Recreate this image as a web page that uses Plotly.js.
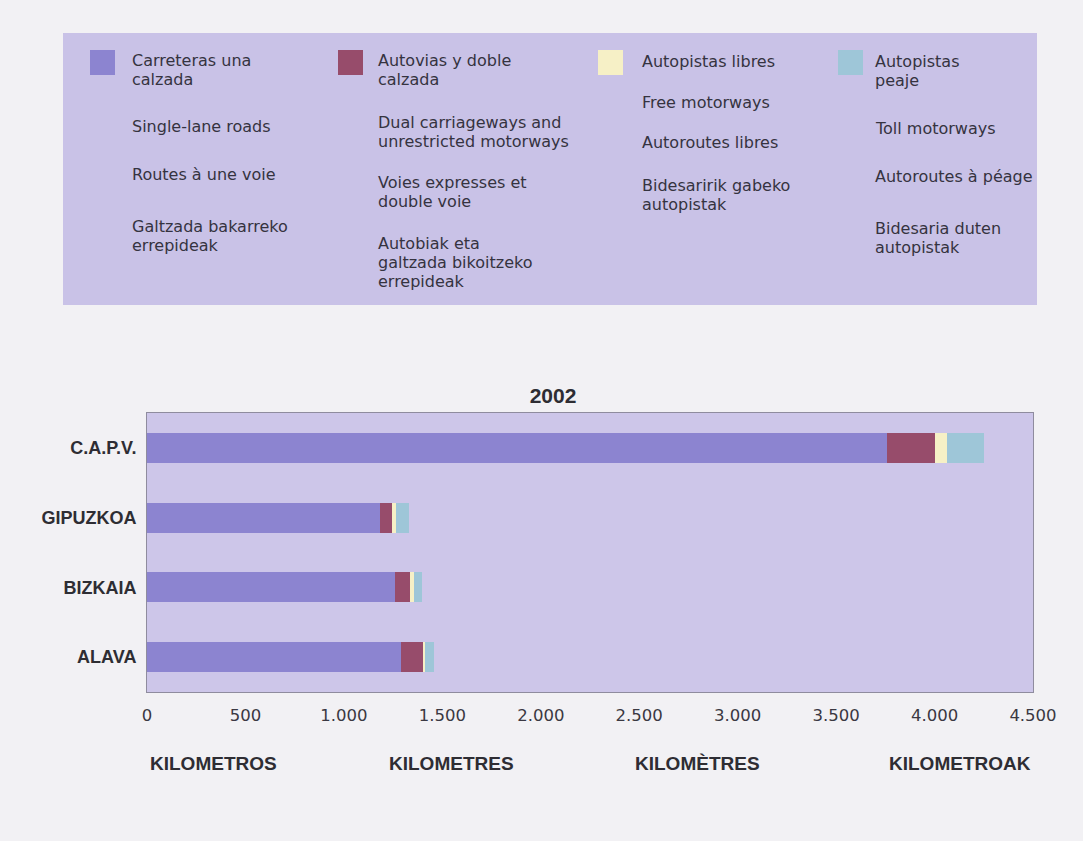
<!DOCTYPE html>
<html>
<head>
<meta charset="utf-8">
<script src="https://cdn.plot.ly/plotly-3.0.1.min.js"></script>
<style>
  html, body { margin: 0; padding: 0; background: #f2f1f4; }
  #chart { width: 1083px; height: 841px; }
</style>
</head>
<body>
<div id="chart"></div>
<script>
// ---------- DATA ----------
const regions = ['C.A.P.V.', 'GIPUZKOA', 'BIZKAIA', 'ALAVA'];
const singleLane   = [3758, 1185, 1262, 1292];   // Carreteras una calzada
const dualCarriage = [244, 60, 76, 112];         // Autovias y doble calzada
const freeMotorway = [61, 22, 20, 8];            // Autopistas libres
const tollMotorway = [190, 66, 37, 45];          // Autopistas peaje

const seriesNames = ['Carreteras una calzada', 'Autovias y doble calzada', 'Autopistas libres', 'Autopistas peaje'];
const xTickVals = [0, 500, 1000, 1500, 2000, 2500, 3000, 3500, 4000, 4500];
const chartTitle = '2002';
const unitLabels = ['KILOMETROS', 'KILOMETRES', 'KILOMÈTRES', 'KILOMETROAK'];

// legend text blocks (one array per column, each block may span several lines)
const legendCol1 = ['Carreteras una\ncalzada', 'Single-lane roads', 'Routes à une voie', 'Galtzada bakarreko\nerrepideak'];
const legendCol2 = ['Autovias y doble\ncalzada', 'Dual carriageways and\nunrestricted motorways', 'Voies expresses et\ndouble voie', 'Autobiak eta\ngaltzada bikoitzeko\nerrepideak'];
const legendCol3 = ['Autopistas libres', 'Free motorways', 'Autoroutes libres', 'Bidesaririk gabeko\nautopistak'];
const legendCol4 = ['Autopistas\npeaje', 'Toll motorways', 'Autoroutes à péage', 'Bidesaria duten\nautopistak'];

// ---------- STYLE / LAYOUT ----------
const colors = ['#8c84d0', '#974c6b', '#f6f0c6', '#9ec6d8'];
const W = 1083, H = 841;
const PL = 147, PR = 1033, PT = 413, PB = 692;
const xp = px => (px - PL) / (PR - PL);
const yp = py => (PB - py) / (PB - PT);
const FONT = '"DejaVu Sans", "Liberation Sans", Arial, sans-serif';
const BFONT = '"Liberation Sans", Arial, Helvetica, sans-serif';
const TXT = '#353340';

const series = [singleLane, dualCarriage, freeMotorway, tollMotorway];
const traces = series.map((vals, i) => ({
  type: 'bar',
  orientation: 'h',
  y: regions,
  x: vals,
  name: seriesNames[i],
  marker: { color: colors[i], line: { width: 0 } },
  width: 0.43,
  hoverinfo: 'x+y+name'
}));

const shapes = [];
const annotations = [];

// legend panel
shapes.push({
  type: 'rect', xref: 'paper', yref: 'paper', layer: 'below',
  x0: xp(63), x1: xp(1037), y0: yp(33), y1: yp(305),
  fillcolor: '#c9c2e7', line: { width: 0 }
});

// legend columns: swatch position, text x, block top y for each block
const legendCols = [legendCol1, legendCol2, legendCol3, legendCol4];
const swatchX = [90, 338, 598, 838];
const textX = [130, 376, 640, 873];
const blockTops = [
  [51, 117, 165, 217],
  [51, 113, 173, 234],
  [52, 93, 133, 176],
  [52, 119, 167, 219]
];
const lineH = 18.8;
const SW = 25;

legendCols.forEach((col, c) => {
  shapes.push({
    type: 'rect', xref: 'paper', yref: 'paper',
    x0: xp(swatchX[c]), x1: xp(swatchX[c] + SW), y0: yp(50), y1: yp(50 + SW),
    fillcolor: colors[c], line: { width: 0 }
  });
  col.forEach((block, b) => {
    block.split('\n').forEach((line, k) => {
      annotations.push({
        xref: 'paper', yref: 'paper',
        x: xp(textX[c]), y: yp(blockTops[c][b] + k * lineH + lineH / 2),
        xanchor: 'left', yanchor: 'middle',
        text: line, showarrow: false,
        font: { family: FONT, size: 16, color: TXT }
      });
    });
  });
});

// unit labels below the axis
const unitX = [213, 451, 697, 960];
unitLabels.forEach((t, i) => {
  annotations.push({
    xref: 'paper', yref: 'paper',
    x: xp(unitX[i]), y: yp(763),
    xanchor: 'center', yanchor: 'middle',
    text: '<b>' + t + '</b>', showarrow: false,
    font: { family: BFONT, size: 19, color: '#2e2d33' }
  });
});

const layout = {
  width: W, height: H,
  margin: { l: PL, r: W - PR, t: PT, b: H - PB, pad: 0 },
  paper_bgcolor: '#f2f1f4',
  plot_bgcolor: '#cdc6e9',
  barmode: 'stack',
  showlegend: false,
  separators: ',.',
  title: {
    text: '<b>' + chartTitle + '</b>',
    font: { family: BFONT, size: 21, color: '#2e2d33' },
    x: xp(553), xanchor: 'center',
    y: 1 - 396 / H, yanchor: 'middle',
    xref: 'paper'
  },
  xaxis: {
    range: [0, 4500],
    tickvals: xTickVals,
    tickformat: ',d',
    showgrid: false, zeroline: false,
    showline: true, mirror: true, linecolor: '#8f8c9e', linewidth: 1,
    ticks: '', ticklabelstandoff: 8,
    tickfont: { family: FONT, size: 16.5, color: '#3a3842' },
    fixedrange: true
  },
  yaxis: {
    type: 'category',
    autorange: 'reversed',
    showgrid: false, zeroline: false,
    showline: true, mirror: true, linecolor: '#8f8c9e', linewidth: 1,
    ticks: '', ticklabelstandoff: 6,
    tickfont: { family: BFONT, size: 18, color: '#2e2d33', weight: 'bold' },
    fixedrange: true
  },
  shapes: shapes,
  annotations: annotations
};

Plotly.newPlot('chart', traces, layout, { displayModeBar: false, staticPlot: false });
</script>
</body>
</html>
